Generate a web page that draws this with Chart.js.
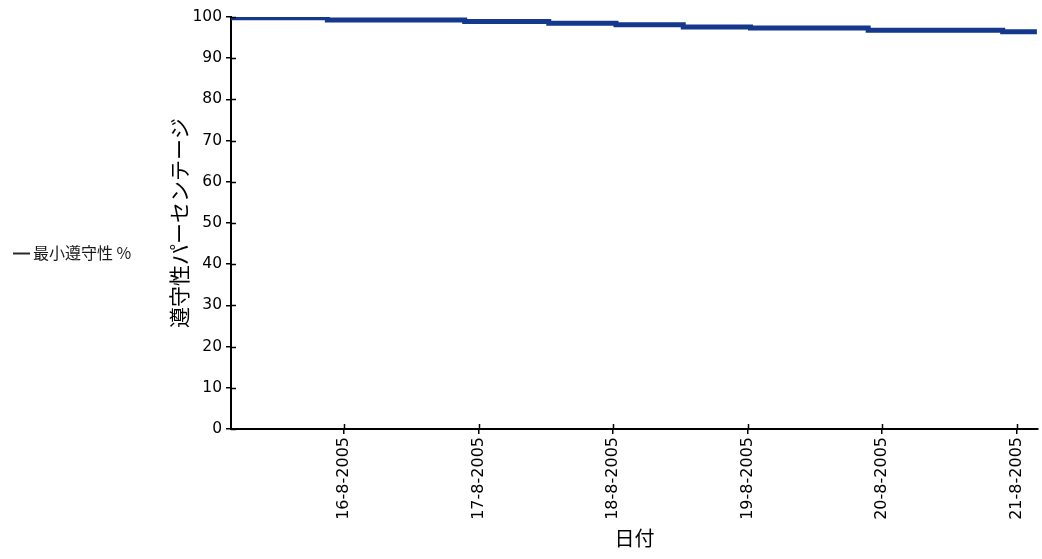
<!DOCTYPE html>
<html>
<head>
<meta charset="utf-8">
<script src="https://cdn.jsdelivr.net/npm/chart.js@4.4.0/dist/chart.umd.min.js"></script>
<style>
  html, body { margin: 0; padding: 0; background: #fff; }
  #wrap { width: 1042px; height: 559px; }
</style>
</head>
<body>
<div id="wrap"><canvas id="c" width="1042" height="559"></canvas></div>
<script>
// Series and axis text
const seriesLabel = '最小遵守性 %';
const yTitle = '遵守性パーセンテージ';
const xTitle = '日付';

// Date ticks: hours after 16-8-2005 00:00 and their labels
const tickHours = [0, 24, 48, 72, 96, 120];
const tickLabels = ['16-8-2005', '17-8-2005', '18-8-2005', '19-8-2005', '20-8-2005', '21-8-2005'];

// Minimum compliance readings (hours after 16-8-2005 00:00, percent)
const stepHours  = [-20.2, -3, 21.5, 36.5, 48.5, 60.5, 72.5, 93.5, 117.5, 123.6];
const compliance = [99.8, 99.3, 98.9, 98.5, 98.1, 97.6, 97.3, 96.8, 96.4, 96.4];

const yTicks = { min: 0, max: 100, step: 10 };

const lineColor = '#14388c';
const axisColor = '#000';
const fontFamily = "'DejaVu Sans', Verdana, sans-serif";
const cjkFont = "'Noto Sans CJK JP', sans-serif";

// Short tick marks drawn on the inside of both axes, so each tick crosses the axis line
const innerTicks = {
  id: 'innerTicks',
  afterDraw(chart) {
    const { ctx, chartArea, scales } = chart;
    ctx.save();
    ctx.strokeStyle = axisColor;
    ctx.lineWidth = 1.5;
    ctx.beginPath();
    scales.y.ticks.forEach(t => {
      const py = Math.round(scales.y.getPixelForValue(t.value)) + 0.5;
      ctx.moveTo(chartArea.left, py);
      ctx.lineTo(chartArea.left + 5, py);
    });
    scales.x.ticks.forEach(t => {
      const px = Math.round(scales.x.getPixelForValue(t.value)) + 0.5;
      ctx.moveTo(px, chartArea.bottom);
      ctx.lineTo(px, chartArea.bottom - 5);
    });
    ctx.stroke();
    ctx.restore();
  }
};

// Legend entry on the left: a short dash followed by the series name
const sideLegend = {
  id: 'sideLegend',
  afterDraw(chart) {
    const { ctx } = chart;
    const y = 253;
    ctx.save();
    ctx.strokeStyle = '#2a2a2a';
    ctx.lineWidth = 2;
    ctx.beginPath();
    ctx.moveTo(13, y + 0.5);
    ctx.lineTo(30, y + 0.5);
    ctx.stroke();
    ctx.fillStyle = '#1a1a1a';
    ctx.font = '16px ' + cjkFont;
    ctx.textBaseline = 'middle';
    ctx.textAlign = 'left';
    ctx.fillText(chart.data.datasets[0].label, 33, y);
    ctx.restore();
  }
};

new Chart(document.getElementById('c'), {
  type: 'line',
  data: {
    datasets: [{
      label: seriesLabel,
      data: stepHours.map((h, i) => ({ x: h, y: compliance[i] })),
      borderColor: lineColor,
      backgroundColor: lineColor,
      borderWidth: 5,
      borderCapStyle: 'butt',
      stepped: true,
      pointRadius: 0,
      fill: false
    }]
  },
  options: {
    responsive: false,
    animation: false,
    devicePixelRatio: 1,
    layout: { padding: { top: 17, right: 4, left: 0, bottom: 0 } },
    plugins: {
      legend: { display: false },
      tooltip: { enabled: false }
    },
    scales: {
      x: {
        type: 'linear',
        min: -20.2,
        max: 123.8,
        afterBuildTicks: s => { s.ticks = tickHours.map(v => ({ value: v })); },
        afterFit: s => { s.height = 130; },
        ticks: {
          callback: v => tickLabels[tickHours.indexOf(v)],
          autoSkip: false,
          minRotation: 90,
          maxRotation: 90,
          padding: 3,
          color: '#000',
          font: { family: fontFamily, size: 16 }
        },
        grid: { drawOnChartArea: false, tickLength: 5, color: axisColor, lineWidth: 1.5 },
        border: { color: axisColor, width: 2 },
        title: {
          display: true,
          text: xTitle,
          color: '#000',
          font: { family: cjkFont, size: 20 },
          padding: { top: 0, bottom: 9 }
        }
      },
      y: {
        min: yTicks.min,
        max: yTicks.max,
        afterFit: s => { s.width = 231; },
        ticks: {
          stepSize: yTicks.step,
          padding: 4,
          color: '#000',
          font: { family: fontFamily, size: 15.5 }
        },
        grid: { drawOnChartArea: false, tickLength: 5, color: axisColor, lineWidth: 1.5 },
        border: { color: axisColor, width: 2 },
        title: {
          display: true,
          text: yTitle,
          color: '#000',
          font: { family: cjkFont, size: 21 },
          padding: { top: 166, bottom: 0 }
        }
      }
    }
  },
  plugins: [innerTicks, sideLegend]
});
</script>
</body>
</html>
